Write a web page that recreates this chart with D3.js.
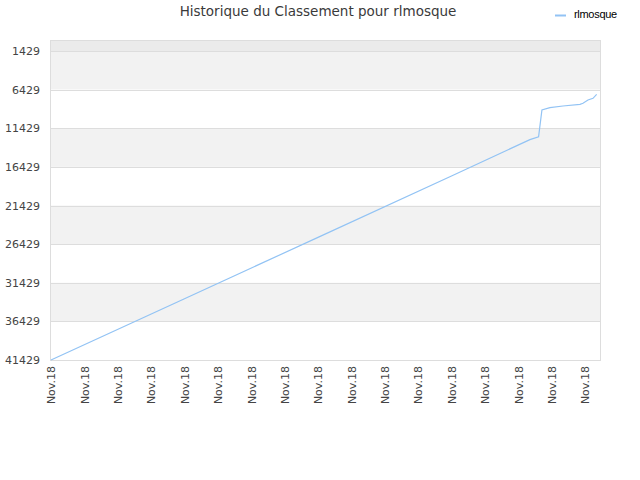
<!DOCTYPE html>
<html><head><meta charset="utf-8">
<script src="https://cdn.jsdelivr.net/npm/d3@7"></script>
<style>body{margin:0;background:#fff}svg{display:block}</style>
</head><body>
<svg id="c" width="640" height="480"></svg>
<script>
const title = "Historique du Classement pour rlmosque";
const seriesName = "rlmosque";
const yTicks = [1429, 6429, 11429, 16429, 21429, 26429, 31429, 36429, 41429];
const xTickPos = [0,1,2,3,4,5,6,7,8,9,10,11,12,13,14,15,16];
const xTickLabels = ["Nov.18","Nov.18","Nov.18","Nov.18","Nov.18","Nov.18","Nov.18","Nov.18","Nov.18","Nov.18","Nov.18","Nov.18","Nov.18","Nov.18","Nov.18","Nov.18","Nov.18"];
const pointX = [0, 4, 8, 12, 14.35, 14.61, 14.71, 14.95, 15.34, 15.85, 15.94, 16.09, 16.24, 16.35];
const pointRank = [41429, 33500, 25550, 17600, 12900, 12519, 9063, 8765, 8545, 8325, 8195, 7768, 7548, 7030];

const svg = d3.select("#c");
const L = 51, R = 600, T = 40, B = 360;
const x = d3.scaleLinear().domain([0, 16.45]).range([L, R]);
const y = d3.scaleLinear().domain([0, 41429]).range([T, B]);

// bands
const bandEdges = [0].concat(yTicks);
for (let i = 0; i < bandEdges.length - 1; i++) {
  const fill = i === 0 ? "#ebebeb" : (i % 2 === 1 ? "#f2f2f2" : "#ffffff");
  svg.append("rect").attr("x", L).attr("width", R - L)
    .attr("y", y(bandEdges[i])).attr("height", y(bandEdges[i+1]) - y(bandEdges[i]))
    .attr("fill", fill);
}
// grid lines
svg.append("g").selectAll("line").data(yTicks).join("line")
  .attr("x1", L).attr("x2", R)
  .attr("y1", d => Math.round(y(d)) + 0.5).attr("y2", d => Math.round(y(d)) + 0.5)
  .attr("stroke", "#dddddd");
// frame
svg.append("rect").attr("x", L - 0.5).attr("y", T + 0.5).attr("width", R - L + 1).attr("height", B - T)
  .attr("fill", "none").attr("stroke", "#dddddd");

// y axis labels
const yAxis = d3.axisLeft(y).tickValues(yTicks).tickSize(0).tickPadding(11).tickFormat(d => d);
const gy = svg.append("g").attr("transform", `translate(${L},0)`).call(yAxis);
gy.select(".domain").remove();
gy.selectAll("text").attr("font-family", "DejaVu Sans").attr("font-size", 11).attr("fill", "#444");

// x axis labels
const xAxis = d3.axisBottom(x).tickValues(xTickPos).tickSize(0).tickFormat((d, i) => xTickLabels[i]);
const gx = svg.append("g").attr("transform", `translate(0,${B})`).call(xAxis);
gx.select(".domain").remove();
gx.selectAll("text")
  .attr("font-family", "DejaVu Sans").attr("font-size", 11).attr("fill", "#444")
  .attr("text-anchor", "end").attr("dy", "0.35em")
  .attr("transform", "translate(0,6) rotate(-90)").attr("x", 0).attr("y", 0);

// line
const data = pointX.map((d, i) => [d, pointRank[i]]);
svg.append("path").datum(data)
  .attr("d", d3.line().x(d => x(d[0])).y(d => y(d[1])))
  .attr("fill", "none").attr("stroke", "#92c3f4").attr("stroke-width", 1.2);

// title
svg.append("text").attr("x", 318).attr("y", 16).attr("text-anchor", "middle")
  .attr("font-family", "DejaVu Sans").attr("font-size", 13.5).attr("fill", "#3a3a3a").text(title);

// legend
svg.append("line").attr("x1", 555).attr("x2", 566).attr("y1", 15.5).attr("y2", 15.5)
  .attr("stroke", "#92c3f4").attr("stroke-width", 2);
svg.append("text").attr("x", 574).attr("y", 18).attr("font-family", "Liberation Sans")
  .attr("font-size", 11).attr("letter-spacing", "-0.3").attr("fill", "#000").text(seriesName);
</script>
</body></html>
